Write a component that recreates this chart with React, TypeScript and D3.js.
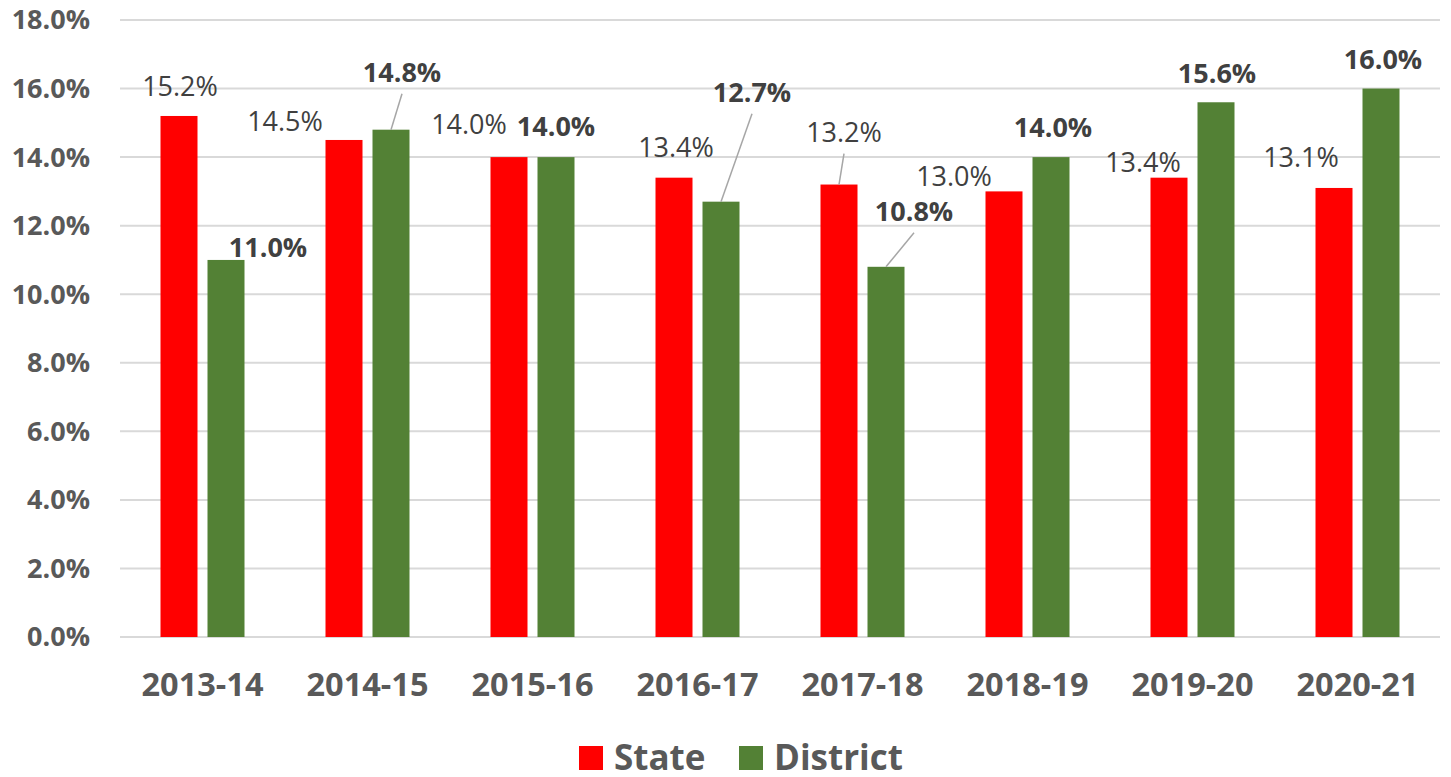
import React from "react";
import * as d3 from "d3";

const categories = ["2013-14", "2014-15", "2015-16", "2016-17", "2017-18", "2018-19", "2019-20", "2020-21"];
const stateValues = [15.2, 14.5, 14.0, 13.4, 13.2, 13.0, 13.4, 13.1];
const districtValues = [11.0, 14.8, 14.0, 12.7, 10.8, 14.0, 15.6, 16.0];
const yTicks = [0, 2, 4, 6, 8, 10, 12, 14, 16, 18];
const seriesNames = ["State", "District"];
const seriesColors = ["#FF0000", "#538135"];

// label placement offsets (relative to bar top center), and leader flags
const stateLabelOffsets: [number, number, boolean][] = [
  [1, -29, false], [-59, -18, false], [-40, -33, false], [2, -30, false],
  [5, -52, true], [-50, -15, false], [-26, -15, false], [-33, -30, false],
];
const districtLabelOffsets: [number, number, boolean][] = [
  [42, -12, false], [11, -57, true], [0, -31, false], [31, -109, true],
  [28, -55, true], [2, -30, false], [1, -29, false], [2, -29, false],
];

const W = 1451, H = 777;
const FONT = "'Open Sans', 'Noto Sans', sans-serif";

export default function App() {
  const x = d3.scaleBand<string>().domain(categories).range([120, 1440]);
  const y = d3.scaleLinear().domain([0, 18]).range([637, 20]);
  const barW = 37;
  const gap = 10;
  const fmt = (v: number) => v.toFixed(1) + "%";

  const series = [stateValues, districtValues];
  const offsets = [stateLabelOffsets, districtLabelOffsets];

  return (
    <svg width={W} height={H} style={{ position: "absolute", left: 0, top: 0, background: "#fff" }}>
      {yTicks.map((t) => (
        <g key={t}>
          <line x1={120} x2={1440} y1={y(t)} y2={y(t)} stroke="#D9D9D9" strokeWidth={2} />
          <text x={90} y={y(t)} dy="0.35em" textAnchor="end" fontFamily={FONT} fontWeight={700} fontSize={27} fill="#595959">
            {fmt(t)}
          </text>
        </g>
      ))}
      {categories.map((c, i) => {
        const cx = (x(c) as number) + x.bandwidth() / 2;
        return (
          <g key={c}>
            {series.map((vals, s) => {
              const bx = s === 0 ? cx - gap / 2 - barW : cx + gap / 2;
              const bc = bx + barW / 2;
              const top = y(vals[i]);
              const [dx, dy, leader] = offsets[s][i];
              const lx = bc + dx, ly = top + dy;
              return (
                <g key={s}>
                  <rect x={bx} y={top} width={barW} height={y(0) - top} fill={seriesColors[s]} />
                  {leader && (
                    <line x1={lx} y1={ly + 21} x2={bc} y2={top} stroke="#A6A6A6" strokeWidth={1.5} />
                  )}
                  <text x={lx} y={ly} dy="0.35em" textAnchor="middle" fontFamily={FONT}
                    fontWeight={s === 0 ? 400 : 700} fontSize={27} fill="#404040">
                    {fmt(vals[i])}
                  </text>
                </g>
              );
            })}
            <text x={cx} y={685} dy="0.35em" textAnchor="middle" fontFamily={FONT} fontWeight={700} fontSize={32.5} fill="#595959">
              {c}
            </text>
          </g>
        );
      })}
      {seriesNames.map((n, s) => {
        const lx = s === 0 ? 579 : 739;
        return (
          <g key={n}>
            <rect x={lx} y={746} width={24} height={24} fill={seriesColors[s]} />
            <text x={lx + 35} y={758} dy="0.35em" fontFamily={FONT} fontWeight={700} fontSize={35} fill="#595959">
              {n}
            </text>
          </g>
        );
      })}
    </svg>
  );
}
